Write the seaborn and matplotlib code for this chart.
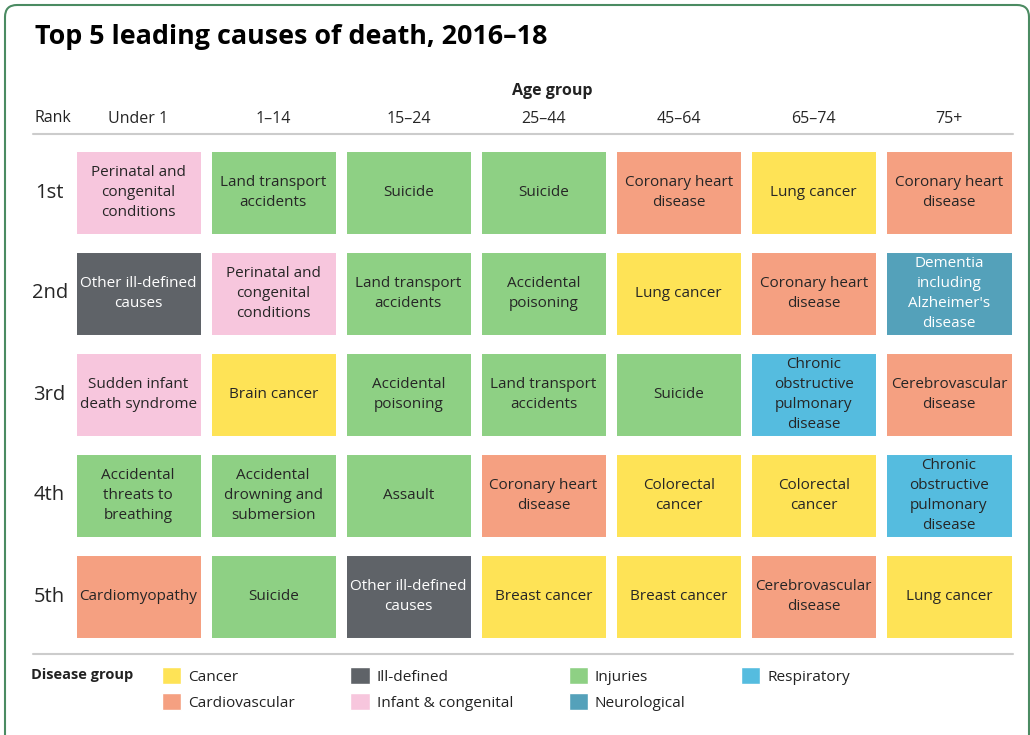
import pandas as pd
import matplotlib.pyplot as plt
import seaborn as sns
from matplotlib.colors import ListedColormap
from matplotlib.patches import Patch, FancyBboxPatch
from matplotlib.lines import Line2D

sns.set_style("white")
plt.rcParams['font.family'] = ['Open Sans', 'DejaVu Sans']
plt.rcParams['text.color'] = '#222222'

# chart data
age_groups = ["Under 1", "1–14", "15–24", "25–44", "45–64", "65–74", "75+"]
ranks = ["1st", "2nd", "3rd", "4th", "5th"]

under_1 = ["Perinatal and\ncongenital\nconditions", "Other ill-defined\ncauses",
           "Sudden infant\ndeath syndrome", "Accidental\nthreats to\nbreathing", "Cardiomyopathy"]
age_1_14 = ["Land transport\naccidents", "Perinatal and\ncongenital\nconditions", "Brain cancer",
            "Accidental\ndrowning and\nsubmersion", "Suicide"]
age_15_24 = ["Suicide", "Land transport\naccidents", "Accidental\npoisoning", "Assault",
             "Other ill-defined\ncauses"]
age_25_44 = ["Suicide", "Accidental\npoisoning", "Land transport\naccidents",
             "Coronary heart\ndisease", "Breast cancer"]
age_45_64 = ["Coronary heart\ndisease", "Lung cancer", "Suicide", "Colorectal\ncancer", "Breast cancer"]
age_65_74 = ["Lung cancer", "Coronary heart\ndisease", "Chronic\nobstructive\npulmonary\ndisease",
             "Colorectal\ncancer", "Cerebrovascular\ndisease"]
age_75_plus = ["Coronary heart\ndisease", "Dementia\nincluding\nAlzheimer's\ndisease",
               "Cerebrovascular\ndisease", "Chronic\nobstructive\npulmonary\ndisease", "Lung cancer"]

group_names = ["Cancer", "Cardiovascular", "Ill-defined", "Infant & congenital",
               "Injuries", "Neurological", "Respiratory"]
group_colors = ["#FEE356", "#F5A081", "#5F6368", "#F7C6DD", "#8ED084", "#54A1BA", "#55BCDF"]

cause_group = {
    "Perinatal and congenital conditions": "Infant & congenital",
    "Sudden infant death syndrome": "Infant & congenital",
    "Other ill-defined causes": "Ill-defined",
    "Accidental threats to breathing": "Injuries",
    "Land transport accidents": "Injuries",
    "Accidental drowning and submersion": "Injuries",
    "Accidental poisoning": "Injuries",
    "Suicide": "Injuries",
    "Assault": "Injuries",
    "Cardiomyopathy": "Cardiovascular",
    "Coronary heart disease": "Cardiovascular",
    "Cerebrovascular disease": "Cardiovascular",
    "Brain cancer": "Cancer",
    "Lung cancer": "Cancer",
    "Breast cancer": "Cancer",
    "Colorectal cancer": "Cancer",
    "Chronic obstructive pulmonary disease": "Respiratory",
    "Dementia including Alzheimer's disease": "Neurological",
}

labels = pd.DataFrame(dict(zip(age_groups, [under_1, age_1_14, age_15_24, age_25_44,
                                            age_45_64, age_65_74, age_75_plus])), index=ranks)
codes = labels.map(lambda s: group_names.index(cause_group[s.replace("\n", " ")]))

W, H = 1030, 735
fig = plt.figure(figsize=(W / 100, H / 100), dpi=100)
ax = fig.add_axes([70.5 / W, 1 - 647 / H, 946 / W, 505 / H])

sns.heatmap(codes, cmap=ListedColormap(group_colors), vmin=-0.5, vmax=6.5,
            annot=labels.values, fmt="", cbar=False, linewidths=7.9, linecolor="white",
            annot_kws=dict(fontsize=11, linespacing=1.45), ax=ax)
# taller gaps between the rank rows
for y in range(len(ranks) + 1):
    ax.axhline(y, color="white", lw=13.7)

ax.xaxis.tick_top()
ax.set_xticklabels(age_groups, rotation=0, fontsize=11.5)
ax.set_yticklabels(ranks, rotation=0, fontsize=14.5, ha="center")
ax.tick_params(axis="x", length=0, pad=11)
ax.tick_params(axis="y", length=0, pad=15)
ax.set_xlabel("")
ax.set_ylabel("")

fig.text(35 / W, 1 - 37 / H, "Top 5 leading causes of death, 2016–18",
         fontsize=19.4, fontweight="bold", va="center", ha="left", color="black")
fig.text(552 / W, 1 - 91 / H, "Age group", fontsize=11.5, fontweight="bold",
         va="center", ha="center")
fig.text(35 / W, 1 - 118 / H, "Rank", fontsize=11.5, va="center", ha="left")

for yy in (134, 654):
    fig.add_artist(Line2D([33 / W, 1013 / W], [1 - yy / H, 1 - yy / H],
                          color="#cccccc", lw=1.5, transform=fig.transFigure))

fig.text(31 / W, 1 - 675 / H, "Disease group", fontsize=10.5, fontweight="bold",
         va="center", ha="left")
handles = [Patch(facecolor=c, label=n) for n, c in zip(group_names, group_colors)]
fig.legend(handles=handles, ncol=4, loc="upper left", bbox_to_anchor=(162 / W, 1 - 667 / H),
           frameon=False, borderpad=0, borderaxespad=0, handlelength=1.25, handleheight=1.3,
           handletextpad=0.45, columnspacing=3.6, labelspacing=0.55,
           prop=dict(size=11.1))

border = FancyBboxPatch((0.05, -0.3), 10.24, 7.6,
                        boxstyle="round,pad=0,rounding_size=0.12",
                        transform=fig.dpi_scale_trans, facecolor="none",
                        edgecolor="#4B8B62", lw=1.5)
fig.add_artist(border)

fig.savefig("out.png", dpi=100)
